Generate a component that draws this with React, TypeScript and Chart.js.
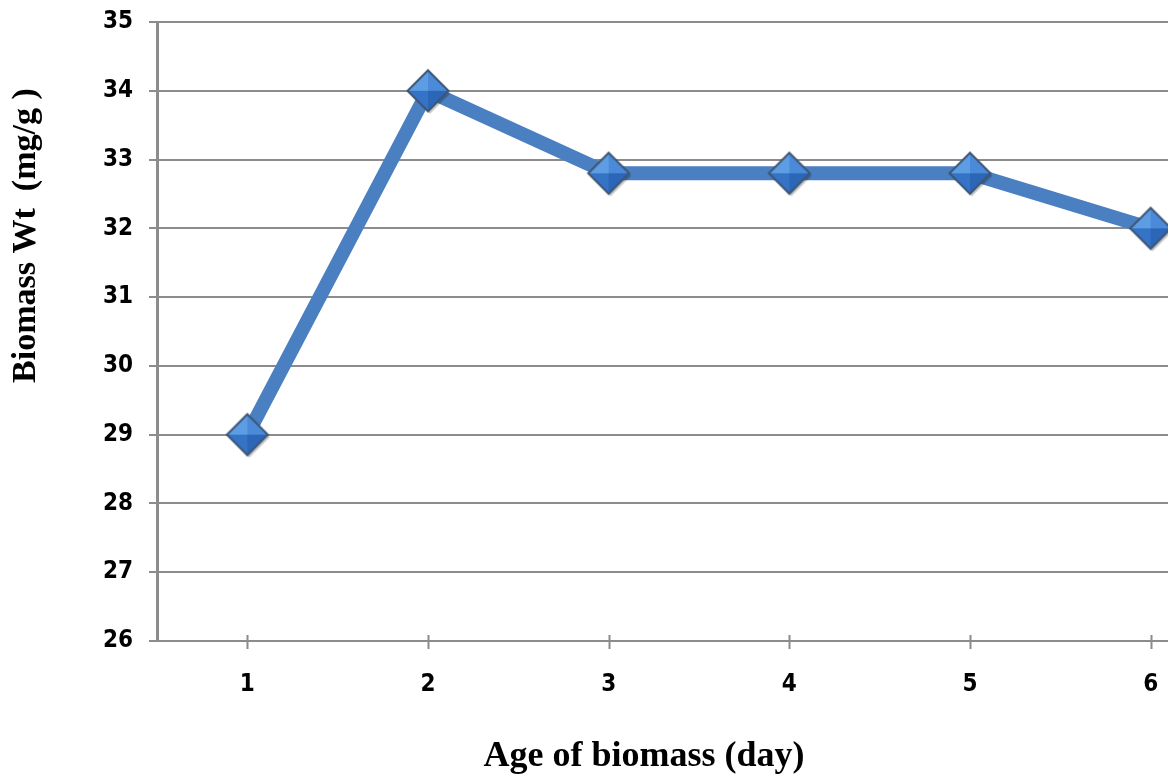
import React, { useEffect, useRef } from 'react';
import { Chart, registerables } from 'chart.js';

Chart.register(...registerables);

// Age of biomass (days) and measured biomass weight (mg/g)
const days = ['1', '2', '3', '4', '5', '6'];
const biomassWt = [29, 34, 32.8, 32.8, 32.8, 32];
const yMin = 26;
const yMax = 35;
const yStep = 1;
const xTitle = 'Age of biomass (day)';
const yTitle = 'Biomass Wt  (mg/g )';

const GRID = '#8c8c8c';
const LINE = '#4a7fc1';
const TICK_FONT = '"DejaVu Sans Condensed", "Liberation Sans", sans-serif';
const TITLE_FONT = '"Liberation Serif", "Times New Roman", serif';

const CANVAS_W = 1288;
const CANVAS_H = 776;

// Bevelled diamond marker drawn once onto an offscreen canvas
function makeDiamond(): HTMLCanvasElement {
  const size = 50;
  const c = document.createElement('canvas');
  c.width = size;
  c.height = size;
  const g = c.getContext('2d')!;
  const m = size / 2;
  const r = 20.5;
  const top: [number, number] = [m, m - r];
  const right: [number, number] = [m + r, m];
  const bottom: [number, number] = [m, m + r];
  const left: [number, number] = [m - r, m];
  const mid: [number, number] = [m, m];

  const path = (dx = 0, dy = 0) => {
    g.beginPath();
    g.moveTo(top[0] + dx, top[1] + dy);
    g.lineTo(right[0] + dx, right[1] + dy);
    g.lineTo(bottom[0] + dx, bottom[1] + dy);
    g.lineTo(left[0] + dx, left[1] + dy);
    g.closePath();
  };

  // soft drop shadow
  g.fillStyle = 'rgba(0,0,0,0.22)';
  path(2, 2.5);
  g.fill();

  const facet = (a: [number, number], b: [number, number], color: string) => {
    g.beginPath();
    g.moveTo(a[0], a[1]);
    g.lineTo(b[0], b[1]);
    g.lineTo(mid[0], mid[1]);
    g.closePath();
    g.fillStyle = color;
    g.fill();
  };
  facet(top, left, '#5d9de4');
  facet(top, right, '#4b8ad8');
  facet(left, bottom, '#3473c6');
  facet(right, bottom, '#2c66b6');

  g.lineWidth = 2;
  g.strokeStyle = '#3d5574';
  path();
  g.stroke();
  return c;
}

// Short tick marks crossing the category axis at each day
const crossTicks = {
  id: 'crossTicks',
  beforeDatasetsDraw(chart: any) {
    const xs = chart.scales.x;
    const yb = chart.chartArea.bottom;
    const ctx = chart.ctx;
    ctx.save();
    ctx.strokeStyle = GRID;
    ctx.lineWidth = 2;
    ctx.beginPath();
    xs.ticks.forEach((_t: any, i: number) => {
      const px = Math.round(xs.getPixelForTick(i)) + 0.5;
      ctx.moveTo(px, yb - 6);
      ctx.lineTo(px, yb + 8);
    });
    ctx.stroke();
    ctx.restore();
  },
};

// Axis titles: the x title is centred on the whole figure, the y title sits in the upper part of the axis
const axisTitles = {
  id: 'axisTitles',
  afterDraw(chart: any) {
    const { ctx, chartArea } = chart;
    ctx.save();
    ctx.fillStyle = '#000';
    ctx.textAlign = 'center';
    ctx.textBaseline = 'alphabetic';

    ctx.font = `bold 36px ${TITLE_FONT}`;
    ctx.fillText(xTitle, chart.width / 2, chartArea.bottom + 125);

    ctx.font = `bold 34px ${TITLE_FONT}`;
    ctx.translate(chartArea.left - 122, chartArea.top + (chartArea.bottom - chartArea.top) * 0.345);
    ctx.rotate(-Math.PI / 2);
    ctx.fillText(yTitle, 0, 0);
    ctx.restore();
  },
};

export default function App() {
  const ref = useRef<HTMLCanvasElement>(null);

  useEffect(() => {
    if (!ref.current) return;
    const marker = makeDiamond();
    const chart = new Chart(ref.current, {
      type: 'line',
      data: {
        labels: days,
        datasets: [
          {
            data: biomassWt,
            borderColor: LINE,
            borderWidth: 14,
            tension: 0,
            pointStyle: marker as any,
            pointRadius: 20,
            pointHoverRadius: 20,
            backgroundColor: LINE,
          },
        ],
      },
      options: {
        responsive: false,
        animation: false,
        events: [],
        layout: { autoPadding: false, padding: { top: 22, left: 0, right: 47, bottom: 0 } },
        plugins: {
          legend: { display: false },
          tooltip: { enabled: false },
        },
        scales: {
          x: {
            type: 'category',
            offset: true,
            grid: { display: false, drawTicks: true, tickLength: 29 },
            border: { display: true, color: GRID, width: 2 },
            ticks: {
              color: '#000',
              padding: 0,
              font: { family: TICK_FONT, size: 24, weight: 'bold' },
            },
            afterFit(scale: any) {
              scale.height = 135;
              scale.paddingLeft = 0;
              scale.paddingRight = 0;
            },
          },
          y: {
            min: yMin,
            max: yMax,
            grid: { color: GRID, lineWidth: 2, tickLength: 8 },
            border: { display: true, color: GRID, width: 3 },
            ticks: {
              stepSize: yStep,
              color: '#000',
              padding: 16,
              font: { family: TICK_FONT, size: 24, weight: 'bold' },
            },
            afterFit(scale: any) {
              scale.width = 157;
              scale.paddingTop = 0;
              scale.paddingBottom = 0;
            },
          },
        },
      },
      plugins: [crossTicks, axisTitles],
    });
    return () => chart.destroy();
  }, []);

  return (
    <div style={{ position: 'fixed', left: 0, top: 0, width: CANVAS_W, height: CANVAS_H, background: '#fff' }}>
      <canvas ref={ref} width={CANVAS_W} height={CANVAS_H} style={{ display: 'block' }} />
    </div>
  );
}
